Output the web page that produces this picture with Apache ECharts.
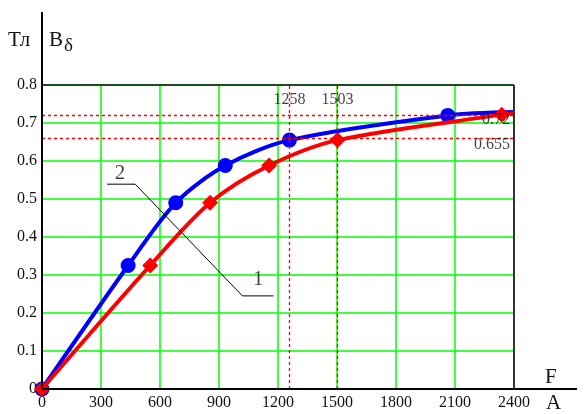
<!DOCTYPE html>
<html>
<head>
<meta charset="utf-8">
<script src="https://cdn.jsdelivr.net/npm/echarts@6/dist/echarts.min.js"></script>
<style>html,body{margin:0;padding:0;background:#fff}#c{width:584px;height:414px}</style>
</head>
<body>
<div id="c"></div>
<script>
// Curve 2 (blue, circles)
const blueF = [0, 438, 680, 932, 1258, 2063, 2400];
const blueB = [0, 0.325, 0.49, 0.588, 0.655, 0.72, 0.729];
const blueMarked = [true, true, true, true, true, true, false];
// Curve 1 (red, diamonds)
const redF = [0, 550, 855, 1155, 1503, 2338, 2400];
const redB = [0, 0.325, 0.49, 0.588, 0.655, 0.722, 0.726];
const redMarked = [true, true, true, true, true, true, false];
// Reference lines
const refF = [1258, 1503];
const refB = [0.72, 0.655];
// Tick labels
const xTicks = ['0','300','600','900','1200','1500','1800','2100','2400'];
const yTicks = ['0','0.1','0.2','0.3','0.4','0.5','0.6','0.7','0.8'];
// Leader line for labels 1 and 2
const leaderF = [331, 474, 1019, 1177];
const leaderB = [0.539, 0.539, 0.245, 0.245];
const curveLabels = ['2', '1'];
const curveLabelF = [397, 1100];
const curveLabelB = [0.567, 0.288];

const FONT = '"Liberation Serif", "DejaVu Serif", serif';
const chart = echarts.init(document.getElementById('c'));

function pts(xs, ys, marked, sym) {
  return xs.map((x, i) => ({value: [x, ys[i]], symbol: marked[i] ? sym : 'none'}));
}

const option = {
  animation: false,
  backgroundColor: '#fff',
  grid: {left: 42, top: 85, right: 70, bottom: 25, show: false},
  xAxis: {
    type: 'value', min: 0, max: 2400, interval: 300,
    axisLine: {show: true, lineStyle: {color: '#000', width: 2}},
    axisTick: {show: false},
    splitLine: {show: true, lineStyle: {color: '#00ff00', width: 1.5}},
    axisLabel: {fontFamily: FONT, fontSize: 16, color: '#111', margin: 6,
      formatter: (v) => xTicks[Math.round(v / 300)]}
  },
  yAxis: {
    type: 'value', min: 0, max: 0.8, interval: 0.1,
    axisLine: {show: true, lineStyle: {color: '#000', width: 2}},
    axisTick: {show: false},
    splitLine: {show: true, lineStyle: {color: '#00ff00', width: 1.5}},
    axisLabel: {fontFamily: FONT, fontSize: 16, color: '#111', margin: 5,
      formatter: (v) => yTicks[Math.round(v * 10)]}
  },
  series: [
    {
      type: 'line', name: 'ref', data: [], silent: true,
      markLine: {
        silent: true, symbol: 'none', animation: false,
        lineStyle: {color: '#ff0000', type: [3, 3], width: 1.3},
        label: {show: false},
        data: refF.map(f => ({xAxis: f})).concat(refB.map(b => ({yAxis: b})))
      }
    },
    {
      type: 'line', name: '2', smooth: 0.3,
      data: pts(blueF, blueB, blueMarked, 'circle'),
      symbolSize: 15, showAllSymbol: true,
      lineStyle: {color: '#0000ff', width: 4},
      itemStyle: {color: '#0000ff'}, z: 3
    },
    {
      type: 'line', name: '1', smooth: 0.3,
      data: pts(redF, redB, redMarked, 'diamond'),
      symbolSize: 16, showAllSymbol: true,
      lineStyle: {color: '#ff0000', width: 4},
      itemStyle: {color: '#ff0000'}, z: 4
    },
    {
      type: 'line', name: 'leader', silent: true,
      data: leaderF.map((f, i) => [f, leaderB[i]]),
      symbol: 'none', lineStyle: {color: '#000', width: 1}, z: 5
    },
    {
      type: 'scatter', name: 'curveLabels', silent: true,
      data: curveLabelF.map((f, i) => ({value: [f, curveLabelB[i]], name: curveLabels[i]})),
      symbolSize: 0,
      label: {show: true, position: 'inside', formatter: (p) => p.name,
        fontFamily: FONT, fontSize: 21, color: '#111'}, z: 6
    },
    {
      type: 'scatter', name: 'refLabelsX', silent: true,
      data: refF.map(f => ({value: [f, 0.76], name: String(f)})),
      symbolSize: 0,
      label: {show: true, position: 'inside', formatter: (p) => p.name,
        fontFamily: FONT, fontSize: 16, color: '#111'}, z: 6
    },
    {
      type: 'scatter', name: 'refLabelsY', silent: true,
      data: refB.map(b => ({value: [2400, b - 0.012], name: String(b)})),
      symbolSize: 0,
      label: {show: true, position: 'left', distance: 4, formatter: (p) => p.name,
        fontFamily: FONT, fontSize: 16, color: '#111'}, z: 6
    }
  ]
};
chart.setOption(option);

const o = chart.convertToPixel({gridIndex: 0}, [0, 0]);
const e = chart.convertToPixel({gridIndex: 0}, [2400, 0.8]);
chart.setOption({
  graphic: [
    {type: 'line', shape: {x1: o[0], y1: o[1], x2: 577, y2: o[1]}, style: {stroke: '#000', lineWidth: 2}, z: 10},
    {type: 'line', shape: {x1: o[0], y1: o[1], x2: o[0], y2: 12}, style: {stroke: '#000', lineWidth: 2}, z: 10},
    {type: 'line', shape: {x1: o[0], y1: e[1], x2: e[0], y2: e[1]}, style: {stroke: '#111', lineWidth: 1.5}, z: 10},
    {type: 'line', shape: {x1: e[0], y1: e[1], x2: e[0], y2: o[1]}, style: {stroke: '#333', lineWidth: 2}, z: 10},
    {type: 'text', left: 8, top: 30, style: {text: 'Тл', font: '21px ' + FONT, fill: '#111'}},
    {type: 'text', left: 49, top: 30, style: {
      text: '{b|B}{s|δ}', font: '21px ' + FONT, fill: '#111',
      rich: {b: {fontFamily: FONT, fontSize: 21, fill: '#111'}, s: {fontFamily: FONT, fontSize: 19, fill: '#111', padding: [12, 0, 0, 1]}}
    }},
    {type: 'text', left: 545, top: 367, style: {text: 'F', font: '21px ' + FONT, fill: '#111'}},
    {type: 'text', left: 546, top: 393, style: {text: 'A', font: '21px ' + FONT, fill: '#111'}}
  ]
});
</script>
</body>
</html>
